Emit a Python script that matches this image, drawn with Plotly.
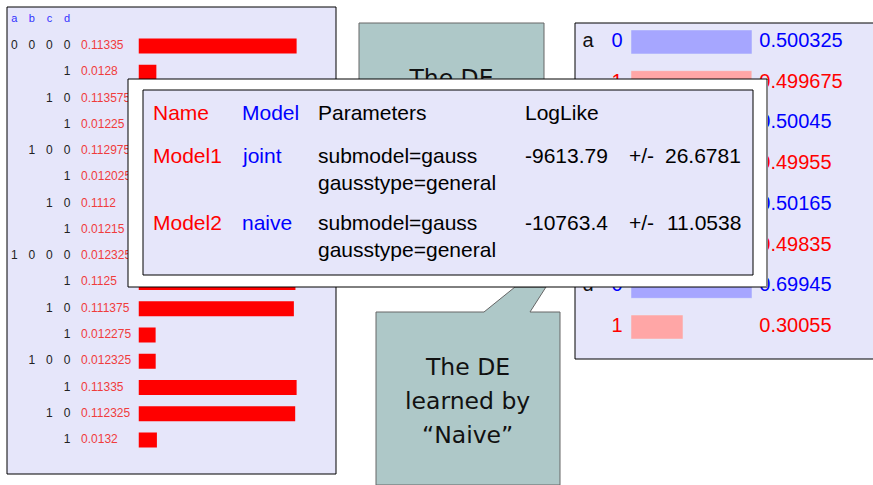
import plotly.graph_objects as go

W, H = 873, 485

# joint distribution learned (left panel)
a_bits = [0, 0, 0, 0, 0, 0, 0, 0, 1, 1, 1, 1, 1, 1, 1, 1]
b_bits = [0, 0, 0, 0, 1, 1, 1, 1, 0, 0, 0, 0, 1, 1, 1, 1]
c_bits = [0, 0, 1, 1, 0, 0, 1, 1, 0, 0, 1, 1, 0, 0, 1, 1]
d_bits = [0, 1, 0, 1, 0, 1, 0, 1, 0, 1, 0, 1, 0, 1, 0, 1]
joint_probs = [0.11335, 0.0128, 0.113575, 0.01225, 0.112975, 0.012025, 0.1112, 0.01215,
               0.012325, 0.1125, 0.111375, 0.012275, 0.012325, 0.11335, 0.112325, 0.0132]
var_names = ['a', 'b', 'c', 'd']

# marginals (right panel)
marg_vars = ['a', 'a', 'b', 'b', 'c', 'c', 'd', 'd']
marg_vals = ['0', '1', '0', '1', '0', '1', '0', '1']
marg_probs = [0.500325, 0.499675, 0.50045, 0.49955, 0.50165, 0.49835, 0.69945, 0.30055]

# model table
tbl_header = ['Name', 'Model', 'Parameters', 'LogLike']
tbl_names = ['Model1', 'Model2']
tbl_models = ['joint', 'naive']
tbl_params = [['submodel=gauss', 'gausstype=general'], ['submodel=gauss', 'gausstype=general']]
tbl_loglike = ['-9613.79', '-10763.4']
tbl_err = ['26.6781', '11.0538']

def px(x): return x / W
def py(y): return 1 - y / H

LAV = '#e6e6fa'
CALL = '#aec8c8'
ARIAL = 'Liberation Sans, Arial'

# left panel geometry (pixels): row pitch and column pitch
ROW0, PITCH = 46, 26.27
COL0, CPITCH = 14.3, 17.57
ly = lambda r: ROW0 + r * PITCH

fig = go.Figure()

# ---- left panel ----
rows = list(range(len(joint_probs)))
fig.add_trace(go.Bar(x=joint_probs, y=rows, orientation='h', width=0.57,
                     marker=dict(color='#ff0000', line=dict(width=0)),
                     xaxis='x', yaxis='y', hoverinfo='skip'))

bits = [a_bits, b_bits, c_bits, d_bits]
for j in range(4):
  xs, ys, ts = [], [], []
  for i in rows:
    # show digit only from the first column that changed vs previous row
    first = 0
    if i > 0:
      first = next(k for k in range(4) if bits[k][i] != bits[k][i-1])
    if j >= first:
      xs.append(j); ys.append(i); ts.append(str(bits[j][i]))
  fig.add_trace(go.Scatter(x=xs, y=ys, text=ts, mode='text', xaxis='x2', yaxis='y',
                           textfont=dict(family=ARIAL, size=12, color='#222222'),
                           cliponaxis=False, hoverinfo='skip'))
fig.add_trace(go.Scatter(x=list(range(4)), y=[-1]*4, text=var_names, mode='text',
                         xaxis='x2', yaxis='y', cliponaxis=False, hoverinfo='skip',
                         textfont=dict(family=ARIAL, size=11, color='#3333ff')))
fig.add_trace(go.Scatter(x=[3.8]*len(rows), y=rows, text=[str(p) for p in joint_probs],
                         mode='text', textposition='middle right', xaxis='x2', yaxis='y',
                         cliponaxis=False, hoverinfo='skip',
                         textfont=dict(family=ARIAL, size=12, color='#f03c3c')))

# ---- right panel ----
rel = []
for i, p in enumerate(marg_probs):
  grp = [q for v, q in zip(marg_vars, marg_probs) if v == marg_vars[i]]
  rel.append(p / max(grp))
mrows = list(range(len(marg_probs)))
fig.add_trace(go.Bar(x=rel, y=mrows, orientation='h', width=0.59,
                     marker=dict(color=['#a6a6ff' if v == '0' else '#ffa6a6' for v in marg_vals]),
                     xaxis='x3', yaxis='y3', hoverinfo='skip'))
vcol = ['#0000ff' if v == '0' else '#ff0000' for v in marg_vals]
letters = [v if i % 2 == 0 else '' for i, v in enumerate(marg_vars)]
fig.add_trace(go.Scatter(x=[-0.355]*8, y=mrows, text=letters, mode='text', xaxis='x3', yaxis='y3',
                         cliponaxis=False, hoverinfo='skip',
                         textfont=dict(family=ARIAL, size=20, color='#111111')))
fig.add_trace(go.Scatter(x=[-0.116]*8, y=mrows, text=marg_vals, mode='text', xaxis='x3', yaxis='y3',
                         cliponaxis=False, hoverinfo='skip',
                         textfont=dict(family=ARIAL, size=20, color=vcol)))
fig.add_trace(go.Scatter(x=[1.06]*8, y=mrows, text=[str(p) for p in marg_probs], mode='text',
                         textposition='middle right', xaxis='x3', yaxis='y3',
                         cliponaxis=False, hoverinfo='skip',
                         textfont=dict(family=ARIAL, size=20, color=vcol)))

# ---- top callout text (mostly hidden under the table) ----
fig.add_trace(go.Scatter(x=[0.5], y=[80], text=['The DE'],
                         mode='text', xaxis='x4', yaxis='y4', cliponaxis=False, hoverinfo='skip',
                         textfont=dict(family='DejaVu Sans', size=23.5, color='#111111')))

hid = dict(visible=False, fixedrange=True)
fig.update_layout(
  width=W, height=H, margin=dict(l=0, r=0, t=0, b=0),
  paper_bgcolor='white', plot_bgcolor='rgba(0,0,0,0)', showlegend=False,
  xaxis=dict(domain=[px(138.5), px(138.5 + 0.12*1395)], range=[0, 0.12], anchor='y', **hid),
  xaxis2=dict(domain=[px(COL0 - 0.3*CPITCH), px(COL0 + 4.5*CPITCH)], range=[-0.3, 4.5], anchor='y', **hid),
  yaxis=dict(domain=[py(ly(15.5)), py(ly(-1.4))], range=[15.5, -1.4], anchor='x', **hid),
  xaxis3=dict(domain=[px(631 - 0.45*121), px(631 + 1.9*121)], range=[-0.45, 1.9], anchor='y3', **hid),
  yaxis3=dict(domain=[py(347.4), py(21.6)], range=[7.5, -0.5], anchor='x3', **hid),
  xaxis4=dict(domain=[px(359), px(544)], range=[0, 1], anchor='y4', **hid),
  yaxis4=dict(domain=[py(200), py(23)], range=[200, 23], anchor='x4', **hid),
)

def rect(x0, y0, x1, y1, fill, line='black', lw=1, layer='below'):
  fig.add_shape(type='rect', xref='paper', yref='paper', x0=px(x0), x1=px(x1), y0=py(y1), y1=py(y0),
                fillcolor=fill, line=dict(color=line, width=lw), layer=layer)

def seg(x0, y0, x1, y1, color='black', lw=1, layer='below'):
  fig.add_shape(type='line', xref='paper', yref='paper', x0=px(x0), x1=px(x1), y0=py(y0), y1=py(y1),
                line=dict(color=color, width=lw), layer=layer)

# panels / callouts (behind)
rect(7, 7, 336, 474, LAV)
# right panel runs off the right edge: fill plus three border lines only
rect(575, 23, 873, 359, LAV, line='rgba(0,0,0,0)', lw=0)
seg(575, 23, 873, 23)
seg(575, 359, 873, 359)
seg(575, 23, 575, 359)
rect(359, 23, 544, 200, CALL, line='#666666')
pts = [(376, 485), (376, 312), (484, 312), (515, 287), (546, 287), (530, 312), (560, 312), (560, 485)]
path = 'M ' + ' L '.join(f'{px(x):.5f},{py(y):.5f}' for x, y in pts) + ' Z'
fig.add_shape(type='path', xref='paper', yref='paper', path=path, fillcolor=CALL,
              line=dict(color='#666666', width=1), layer='below')

# table frame (in front)
rect(128, 79, 767, 287, 'white', layer='above')
seg(767, 287, 767, 80, color='#888888', lw=2, layer='above')
rect(143, 90, 753, 275, LAV, layer='above')

def note(x, y, text, color='black', anchor='left', size=21, family=ARIAL):
  fig.add_annotation(x=px(x), y=py(y), xref='paper', yref='paper', text=text, showarrow=False,
                     xanchor=anchor, yanchor='middle', font=dict(family=family, size=size, color=color))

hx = [151, 240, 316, 523]
hcol = ['#ff0000', '#0000ff', 'black', 'black']
for x, t, c in zip(hx, tbl_header, hcol):
  note(x, 112, t, c)
for k, ry in enumerate([155, 223]):
  note(151, ry, tbl_names[k], '#ff0000')
  note(240, ry, tbl_models[k], '#0000ff')
  note(316, ry, tbl_params[k][0])
  note(316, ry + 27, tbl_params[k][1])
  note(523, ry, tbl_loglike[k])
  note(627, ry, '+/-')
  note(743, ry, tbl_err[k], anchor='right')

# bottom callout text
for y, t in zip([367, 401, 435], ['The DE', 'learned by', '“Naive”']):
  note(467, y, t, '#111111', anchor='center', size=23.5, family='DejaVu Sans')

# page body has an 8px default margin; drop it so the figure fills the window
fig.write_html('out.html', config={'displayModeBar': False},
               post_script="document.body.style.margin='0';")
